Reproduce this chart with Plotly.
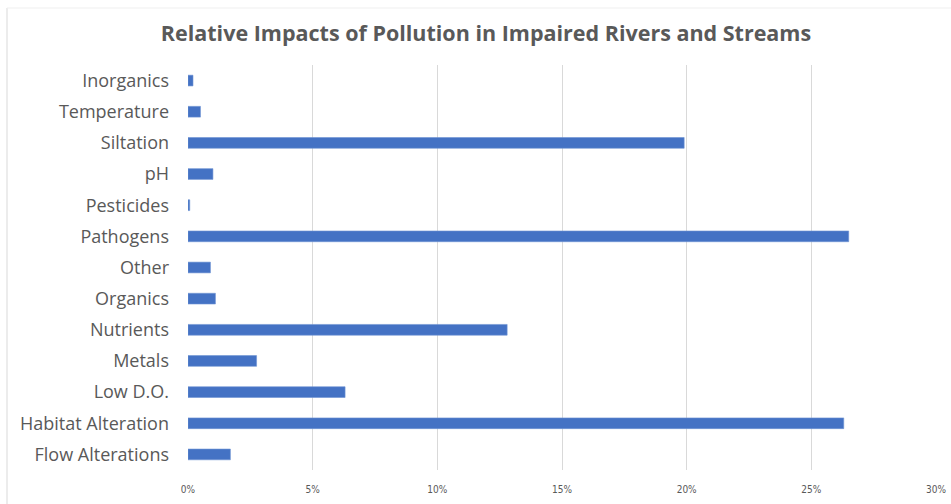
import plotly.graph_objects as go

# Pollutant categories (bottom to top) and share of impaired river miles
categories = [
    "Flow Alterations", "Habitat Alteration", "Low D.O.", "Metals", "Nutrients",
    "Organics", "Other", "Pathogens", "Pesticides", "pH", "Siltation",
    "Temperature", "Inorganics",
]
impact_share = [0.017, 0.263, 0.063, 0.0275, 0.128, 0.011, 0.009, 0.265, 0.0007, 0.010, 0.199, 0.005, 0.002]

x_ticks = [0, 0.05, 0.10, 0.15, 0.20, 0.25, 0.30]

W, H = 951, 504
L, R, T, B = 188, 15, 65, 34
pw, ph = W - L - R, H - T - B

fig = go.Figure(
    go.Bar(
        y=categories,
        x=impact_share,
        orientation="h",
        marker=dict(color="#4472C4", line=dict(color="#6f93d3", width=0.6)),
        hovertemplate="%{y}: %{x:.1%}<extra></extra>",
    )
)

fig.update_layout(
    width=W,
    height=H,
    margin=dict(l=L, r=R, t=T, b=B, autoexpand=False),
    paper_bgcolor="white",
    plot_bgcolor="white",
    bargap=0.655,
    showlegend=False,
    title=dict(
        text="Relative Impacts of Pollution in Impaired Rivers and Streams",
        x=486 / W,
        xanchor="center",
        xref="container",
        y=1 - 33 / H,
        yanchor="middle",
        font=dict(family="Open Sans", size=21.5, color="#595959", weight="bold"),
    ),
    xaxis=dict(
        range=[0, 0.30],
        tickvals=x_ticks,
        tickformat=".0%",
        showgrid=True,
        gridcolor="#d9d9d9",
        gridwidth=1,
        zeroline=False,
        showline=False,
        ticks="",
        tickfont=dict(family="DejaVu Sans Condensed", size=10, color="#595959"),
        ticklabelstandoff=12,
        fixedrange=True,
    ),
    yaxis=dict(
        categoryorder="array",
        categoryarray=categories,
        showgrid=False,
        zeroline=False,
        showline=False,
        ticks="",
        tickfont=dict(family="Open Sans", size=18, color="#595959"),
        ticklabelstandoff=18,
        fixedrange=True,
    ),
    shapes=[
        # chart frame: left and top edges
        dict(type="line", xref="paper", yref="paper",
             x0=(7 - L) / pw, x1=(7 - L) / pw, y0=1 + (T - 8) / ph, y1=-B / ph,
             line=dict(color="#d9d9d9", width=1)),
        dict(type="line", xref="paper", yref="paper",
             x0=(7 - L) / pw, x1=(W - L) / pw, y0=1 + (T - 8) / ph, y1=1 + (T - 8) / ph,
             line=dict(color="#efefef", width=1)),
    ],
)

fig.write_html("out.html")
